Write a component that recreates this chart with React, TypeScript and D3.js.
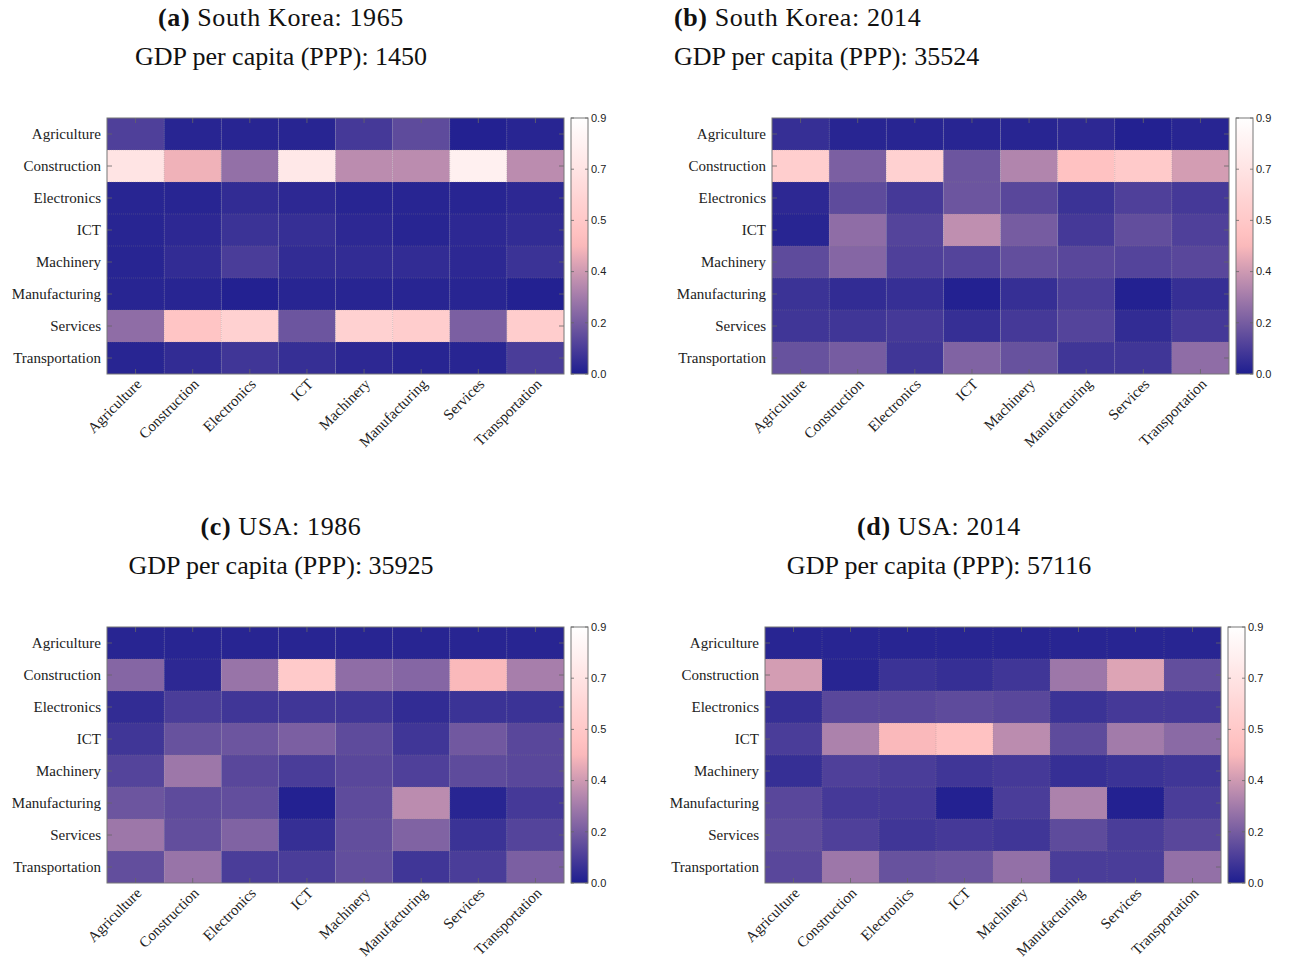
import React from "react";
import * as d3 from "d3";

const sectors = ["Agriculture", "Construction", "Electronics", "ICT", "Machinery", "Manufacturing", "Services", "Transportation"];

const panelTitles = [
  { tag: "(a)", name: " South Korea: 1965", gdp: "GDP per capita (PPP): 1450" },
  { tag: "(b)", name: " South Korea: 2014", gdp: "GDP per capita (PPP): 35524" },
  { tag: "(c)", name: " USA: 1986", gdp: "GDP per capita (PPP): 35925" },
  { tag: "(d)", name: " USA: 2014", gdp: "GDP per capita (PPP): 57116" },
];

const korea1965 = [
  [0.10, 0.02, 0.02, 0.02, 0.08, 0.13, 0.01, 0.02],
  [0.72, 0.43, 0.24, 0.75, 0.32, 0.32, 0.80, 0.32],
  [0.02, 0.02, 0.04, 0.03, 0.02, 0.02, 0.02, 0.03],
  [0.02, 0.03, 0.06, 0.05, 0.03, 0.02, 0.03, 0.04],
  [0.02, 0.04, 0.09, 0.04, 0.04, 0.04, 0.03, 0.06],
  [0.02, 0.02, 0.01, 0.02, 0.02, 0.02, 0.02, 0.01],
  [0.23, 0.52, 0.60, 0.16, 0.60, 0.57, 0.19, 0.57],
  [0.02, 0.04, 0.07, 0.05, 0.03, 0.02, 0.02, 0.09],
];

const korea2014 = [
  [0.05, 0.02, 0.02, 0.02, 0.02, 0.03, 0.01, 0.02],
  [0.58, 0.19, 0.60, 0.16, 0.30, 0.50, 0.55, 0.37],
  [0.03, 0.13, 0.08, 0.16, 0.12, 0.06, 0.10, 0.08],
  [0.02, 0.23, 0.11, 0.33, 0.18, 0.08, 0.14, 0.10],
  [0.13, 0.21, 0.10, 0.11, 0.14, 0.12, 0.11, 0.12],
  [0.06, 0.04, 0.05, 0.01, 0.05, 0.09, 0.01, 0.05],
  [0.07, 0.07, 0.08, 0.05, 0.08, 0.11, 0.04, 0.08],
  [0.15, 0.18, 0.07, 0.20, 0.15, 0.07, 0.07, 0.23],
];

const usa1986 = [
  [0.02, 0.02, 0.02, 0.02, 0.02, 0.02, 0.02, 0.02],
  [0.21, 0.03, 0.25, 0.55, 0.23, 0.21, 0.45, 0.28],
  [0.04, 0.09, 0.07, 0.07, 0.07, 0.04, 0.06, 0.06],
  [0.07, 0.15, 0.16, 0.19, 0.13, 0.07, 0.17, 0.12],
  [0.11, 0.26, 0.12, 0.09, 0.12, 0.10, 0.13, 0.12],
  [0.16, 0.13, 0.14, 0.01, 0.13, 0.32, 0.02, 0.08],
  [0.26, 0.14, 0.20, 0.05, 0.14, 0.20, 0.06, 0.11],
  [0.14, 0.25, 0.09, 0.09, 0.14, 0.07, 0.09, 0.19],
];

const usa2014 = [
  [0.02, 0.02, 0.02, 0.02, 0.02, 0.02, 0.02, 0.02],
  [0.37, 0.02, 0.06, 0.05, 0.07, 0.26, 0.39, 0.14],
  [0.05, 0.12, 0.12, 0.13, 0.12, 0.06, 0.08, 0.08],
  [0.09, 0.29, 0.45, 0.50, 0.32, 0.13, 0.27, 0.22],
  [0.05, 0.10, 0.09, 0.07, 0.08, 0.05, 0.06, 0.07],
  [0.12, 0.08, 0.08, 0.01, 0.09, 0.29, 0.01, 0.09],
  [0.13, 0.10, 0.07, 0.08, 0.07, 0.13, 0.09, 0.12],
  [0.12, 0.26, 0.15, 0.16, 0.24, 0.09, 0.09, 0.24],
];

const matrices = [korea1965, korea2014, usa1986, usa2014];

const colorbarTicks = [0, 0.18, 0.36, 0.54, 0.72, 0.9];
const colorStops = [0, 0.46, 0.9];
const colorRange = ["#1e1e90", "#ffbcbc", "#ffffff"];

const layouts = [
  { x0: 107, x1: 564, y0: 118, y1: 374, cb: 571, tx: 281, ty: 26, anchor: "middle" },
  { x0: 772, x1: 1229, y0: 118, y1: 374, cb: 1236, tx: 674, ty: 26, anchor: "start" },
  { x0: 107, x1: 564, y0: 627, y1: 883, cb: 571, tx: 281, ty: 535, anchor: "middle" },
  { x0: 765, x1: 1221, y0: 627, y1: 883, cb: 1228, tx: 939, ty: 535, anchor: "middle" },
];

const color = d3.scaleLinear<string>().domain(colorStops).range(colorRange).interpolate(d3.interpolateRgb).clamp(true);

const serif = "'Liberation Serif', 'DejaVu Serif', serif";
const sans = "'Liberation Sans', Arial, sans-serif";
const fmt = d3.format(".1f");

function Panel({ idx }: { idx: number }) {
  const L = layouts[idx];
  const m = matrices[idx];
  const T = panelTitles[idx];
  const x = d3.scaleBand<string>().domain(sectors).range([L.x0, L.x1]);
  const y = d3.scaleBand<string>().domain(sectors).range([L.y0, L.y1]);
  const cbW = 17;
  const cy = d3.scaleLinear().domain([0, 0.9]).range([L.y1, L.y0]);
  const gradId = `grad${idx}`;
  const bw = x.bandwidth();
  const bh = y.bandwidth();
  const gradStops = d3.range(0, 0.9001, 0.05);
  return (
    <g>
      <text x={L.tx} y={L.ty} textAnchor={L.anchor} fontFamily={serif} fontSize={26} letterSpacing={0.6} fill="#111">
        <tspan fontWeight="bold">{T.tag}</tspan>
        <tspan>{T.name}</tspan>
      </text>
      <text x={L.tx} y={L.ty + 39} textAnchor={L.anchor} fontFamily={serif} fontSize={26} fill="#111">
        {T.gdp}
      </text>
      {m.map((row, r) =>
        row.map((v, c) => (
          <rect key={`${r}-${c}`} x={x(sectors[c])} y={y(sectors[r])} width={bw} height={bh} fill={color(v)} />
        ))
      )}
      {sectors.slice(1).map((s) => (
        <g key={"g" + s}>
          <line x1={x(s)} x2={x(s)} y1={L.y0} y2={L.y1} stroke="#888" strokeOpacity={0.5} strokeWidth={0.6} strokeDasharray="1,1" />
          <line x1={L.x0} x2={L.x1} y1={y(s)} y2={y(s)} stroke="#888" strokeOpacity={0.5} strokeWidth={0.6} strokeDasharray="1,1" />
        </g>
      ))}
      {sectors.map((s) => {
        const cx = (x(s) as number) + bw / 2;
        const cyy = (y(s) as number) + bh / 2;
        return (
          <g key={"t" + s}>
            <line x1={cx} x2={cx} y1={L.y1} y2={L.y1 - 5} stroke="#666" strokeWidth={0.8} />
            <line x1={cx} x2={cx} y1={L.y0} y2={L.y0 + 5} stroke="#666" strokeWidth={0.8} />
            <line x1={L.x0} x2={L.x0 + 5} y1={cyy} y2={cyy} stroke="#666" strokeWidth={0.8} />
            <line x1={L.x1} x2={L.x1 - 5} y1={cyy} y2={cyy} stroke="#666" strokeWidth={0.8} />
            <text x={L.x0 - 6} y={cyy} dy="0.3em" textAnchor="end" fontFamily={serif} fontSize={15} fill="#222">
              {s}
            </text>
            <text
              transform={`translate(${cx + 7},${L.y1 + 11}) rotate(-45)`}
              textAnchor="end"
              fontFamily={serif}
              fontSize={15}
              fill="#222"
            >
              {s}
            </text>
          </g>
        );
      })}
      <rect x={L.x0} y={L.y0} width={L.x1 - L.x0} height={L.y1 - L.y0} fill="none" stroke="#777" strokeWidth={1} />
      <defs>
        <linearGradient id={gradId} x1="0" x2="0" y1="1" y2="0">
          {gradStops.map((s) => (
            <stop key={s} offset={`${(s / 0.9) * 100}%`} stopColor={color(s)} />
          ))}
        </linearGradient>
      </defs>
      <rect x={L.cb} y={L.y0} width={cbW} height={L.y1 - L.y0} fill={`url(#${gradId})`} stroke="#777" strokeWidth={1} />
      {colorbarTicks.map((t) => (
        <g key={"c" + t}>
          <line x1={L.cb + cbW} x2={L.cb + cbW - 3} y1={cy(t)} y2={cy(t)} stroke="#666" strokeWidth={0.8} />
          <line x1={L.cb} x2={L.cb + 3} y1={cy(t)} y2={cy(t)} stroke="#666" strokeWidth={0.8} />
          <text x={L.cb + cbW + 3} y={cy(t)} dy="0.35em" fontFamily={sans} fontSize={11} fill="#222">
            {fmt(t)}
          </text>
        </g>
      ))}
    </g>
  );
}

export default function App() {
  return (
    <svg width={1294} height={965} style={{ position: "absolute", left: 0, top: 0, background: "#fff" }}>
      <rect width={1294} height={965} fill="#fff" />
      {[0, 1, 2, 3].map((i) => (
        <Panel key={i} idx={i} />
      ))}
    </svg>
  );
}
